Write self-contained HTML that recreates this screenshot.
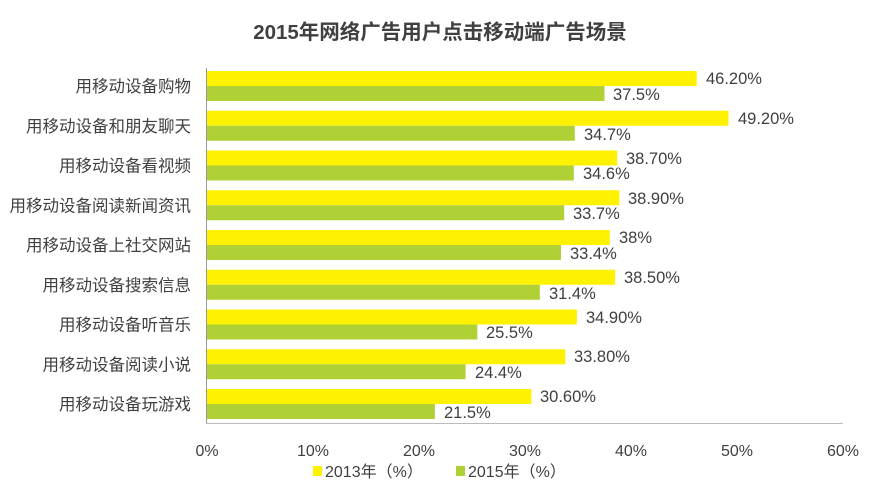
<!DOCTYPE html>
<html><head><meta charset="utf-8"><style>
html,body{margin:0;padding:0;background:#fff;}
svg{display:block;font-family:"Liberation Sans","Noto Sans CJK SC",sans-serif;}
</style></head><body>
<svg width="891" height="490" viewBox="0 0 891 490" xmlns="http://www.w3.org/2000/svg">
<text x="440" y="39" text-anchor="middle" font-size="20.5" font-weight="bold" fill="#404040">2015年网络广告用户点击移动端广告场景</text>
<g fill="#FFF200">
<rect x="207" y="71" width="489.7" height="15"/>
<rect x="207" y="110.75" width="521.5" height="15"/>
<rect x="207" y="150.5" width="410.2" height="15"/>
<rect x="207" y="190.25" width="412.3" height="15"/>
<rect x="207" y="230" width="402.8" height="15"/>
<rect x="207" y="269.75" width="408.1" height="15"/>
<rect x="207" y="309.5" width="369.9" height="15"/>
<rect x="207" y="349.25" width="358.3" height="15"/>
<rect x="207" y="389" width="324.4" height="15"/>
</g>
<g fill="#AFD136">
<rect x="207" y="86" width="397.5" height="15"/>
<rect x="207" y="125.75" width="367.8" height="15"/>
<rect x="207" y="165.5" width="366.8" height="15"/>
<rect x="207" y="205.25" width="357.2" height="15"/>
<rect x="207" y="245" width="354" height="15"/>
<rect x="207" y="284.75" width="332.8" height="15"/>
<rect x="207" y="324.5" width="270.3" height="15"/>
<rect x="207" y="364.25" width="258.6" height="15"/>
<rect x="207" y="404" width="227.9" height="15"/>
</g>
<line x1="206.5" y1="68" x2="206.5" y2="423.5" stroke="#999" stroke-width="1"/>
<line x1="206" y1="423.5" x2="843" y2="423.5" stroke="#bbb" stroke-width="1"/>
<g font-size="16.5" fill="#404040">
<text x="706" y="84">46.20%</text><text x="613" y="100">37.5%</text>
<text x="738" y="124">49.20%</text><text x="584" y="140">34.7%</text>
<text x="626" y="164">38.70%</text><text x="583" y="179">34.6%</text>
<text x="628" y="204">38.90%</text><text x="573" y="219">33.7%</text>
<text x="619" y="243">38%</text><text x="570" y="259">33.4%</text>
<text x="624" y="283">38.50%</text><text x="549" y="299">31.4%</text>
<text x="586" y="323">34.90%</text><text x="486" y="338">25.5%</text>
<text x="574" y="362">33.80%</text><text x="475" y="378">24.4%</text>
<text x="540" y="402">30.60%</text><text x="444" y="418">21.5%</text>
</g>
<g font-size="16.5" fill="#404040" text-anchor="end">
<text x="191" y="92">用移动设备购物</text>
<text x="191" y="131.75">用移动设备和朋友聊天</text>
<text x="191" y="171.5">用移动设备看视频</text>
<text x="191" y="211.25">用移动设备阅读新闻资讯</text>
<text x="191" y="251">用移动设备上社交网站</text>
<text x="191" y="290.75">用移动设备搜索信息</text>
<text x="191" y="330.5">用移动设备听音乐</text>
<text x="191" y="370.25">用移动设备阅读小说</text>
<text x="191" y="410">用移动设备玩游戏</text>
</g>
<g font-size="16" fill="#404040" text-anchor="middle">
<text x="207" y="456">0%</text>
<text x="313" y="456">10%</text>
<text x="419" y="456">20%</text>
<text x="525" y="456">30%</text>
<text x="631" y="456">40%</text>
<text x="737" y="456">50%</text>
<text x="843" y="456">60%</text>
</g>
<rect x="313" y="466" width="9" height="10" fill="#FFF200"/>
<text x="325" y="477" font-size="16" fill="#404040">2013年（%）</text>
<rect x="456" y="466" width="9" height="10" fill="#AFD136"/>
<text x="468" y="477" font-size="16" fill="#404040">2015年（%）</text>
</svg>
</body></html>
